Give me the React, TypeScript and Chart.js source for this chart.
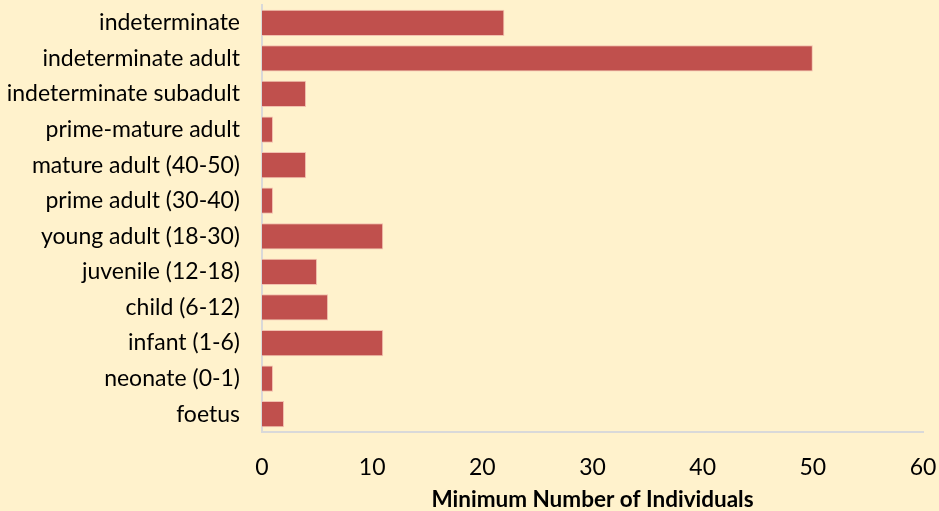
import React, { useEffect, useRef } from "react";
import { Chart, registerables } from "chart.js";

Chart.register(...registerables);

const categories = [
  "indeterminate",
  "indeterminate adult",
  "indeterminate subadult",
  "prime-mature adult",
  "mature adult (40-50)",
  "prime adult (30-40)",
  "young adult (18-30)",
  "juvenile (12-18)",
  "child (6-12)",
  "infant (1-6)",
  "neonate (0-1)",
  "foetus",
];
const mniValues = [22, 50, 4, 1, 4, 1, 11, 5, 6, 11, 1, 2];
const xTicks = [0, 10, 20, 30, 40, 50, 60];
const xTitle = "Minimum Number of Individuals";

export default function App() {
  const ref = useRef<HTMLCanvasElement | null>(null);
  useEffect(() => {
    if (!ref.current) return;
    const chart = new Chart(ref.current, {
      type: "bar",
      data: {
        labels: categories,
        datasets: [
          {
            data: mniValues,
            backgroundColor: "#C0504D",
            borderColor: "#F2C2B0",
            borderWidth: 1,
            barPercentage: 0.74,
            categoryPercentage: 1,
          },
        ],
      },
      options: {
        indexAxis: "y",
        animation: false,
        responsive: false,
        layout: { padding: { top: 5, right: 16, left: 0, bottom: 0 } },
        plugins: { legend: { display: false }, tooltip: { enabled: false } },
        scales: {
          x: {
            min: 0,
            max: 60,
            afterBuildTicks: (s: any) => {
              s.ticks = xTicks.map((v) => ({ value: v }));
            },
            afterFit: (s: any) => {
              s.height = 79;
            },
            grid: { display: false, drawTicks: true, tickLength: 20 },
            border: { display: true, color: "#D9D9D9", width: 2 },
            ticks: {
              color: "#000000",
              padding: 2,
              font: { family: "Lato", size: 23 },
            },
            title: {
              display: true,
              text: xTitle,
              color: "#000000",
              font: { family: "Lato", size: 22.5, weight: "bold", lineHeight: 1 },
              padding: { top: 0, bottom: 0 },
            },
          },
          y: {
            afterFit: (s: any) => {
              s.width = 262;
            },
            grid: { display: false, drawTicks: true, tickLength: 22 },
            border: { display: true, color: "#D9D9D9", width: 2 },
            ticks: {
              color: "#000000",
              padding: 0,
              autoSkip: false,
              font: { family: "Lato", size: 23, lineHeight: 0.43 },
            },
          },
        },
      },
    });
    return () => chart.destroy();
  }, []);
  return (
    <div
      style={{
        position: "fixed",
        left: 0,
        top: 0,
        width: 939,
        height: 511,
        background: "#FFF2CC",
      }}
    >
      <canvas ref={ref} width={939} height={511} />
    </div>
  );
}
